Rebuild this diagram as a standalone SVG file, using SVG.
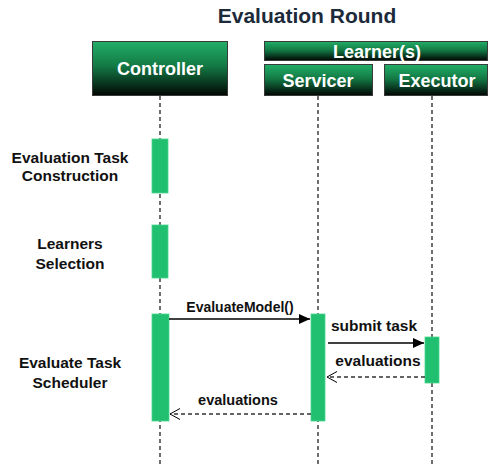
<svg xmlns="http://www.w3.org/2000/svg" width="488" height="467" viewBox="0 0 488 467">
<defs>
<linearGradient id="hdr" x1="0" y1="0" x2="0" y2="1">
<stop offset="0" stop-color="#22ae68"/>
<stop offset="0.45" stop-color="#137a45"/>
<stop offset="1" stop-color="#020604"/>
</linearGradient>
<marker id="filled" markerWidth="12" markerHeight="10" refX="11" refY="5" orient="auto" markerUnits="userSpaceOnUse">
<path d="M0,0 L11,5 L0,10 Z" fill="#000"/>
</marker>
<marker id="open" markerWidth="12" markerHeight="12" refX="11" refY="6" orient="auto" markerUnits="userSpaceOnUse">
<path d="M1,0.5 L11,6 L1,11.5" fill="none" stroke="#000" stroke-width="1"/>
</marker>
</defs>
<style>
.hdr{fill:url(#hdr);stroke:#3a3a3a;stroke-width:1}
.hdrt{font-family:"Liberation Sans",Arial,sans-serif;font-weight:bold;font-size:18px;fill:#fff;text-anchor:middle}
.life{stroke:#222;stroke-width:1.3;stroke-dasharray:4 3;fill:none}
.act{fill:#21c070;stroke:#4fd48f;stroke-width:0.8}
.lbl{font-family:"Liberation Sans",Arial,sans-serif;font-weight:bold;font-size:15.5px;fill:#111;text-anchor:middle}
.msg{font-family:"Liberation Sans",Arial,sans-serif;font-weight:bold;fill:#111;text-anchor:middle}
.solid{stroke:#000;stroke-width:1.3;fill:none}
.dash{stroke:#333;stroke-width:1.3;stroke-dasharray:4 3;fill:none}
</style>
<rect width="488" height="467" fill="#fff"/>
<text x="307" y="23" font-family="Liberation Sans,Arial,sans-serif" font-weight="bold" font-size="21" fill="#1c2a3a" text-anchor="middle">Evaluation Round</text>

<g id="lifelines">
<line class="life" x1="160" y1="96" x2="160" y2="466"/>
<line class="life" x1="318" y1="96" x2="318" y2="466"/>
<line class="life" x1="432" y1="96" x2="432" y2="466"/>
</g>

<g id="controller">
<rect class="hdr" x="92.5" y="41.5" width="135" height="54"/>
<text class="hdrt" x="160" y="75">Controller</text>
</g>
<g id="learners">
<rect class="hdr" x="264.5" y="41.5" width="223" height="19"/>
<text class="hdrt" x="377" y="57.5">Learner(s)</text>
</g>
<g id="servicer">
<rect class="hdr" x="264.5" y="64.5" width="108" height="31"/>
<text class="hdrt" x="318" y="87">Servicer</text>
</g>
<g id="executor">
<rect class="hdr" x="384.5" y="64.5" width="103" height="31"/>
<text class="hdrt" x="437" y="87">Executor</text>
</g>

<g id="activations">
<rect class="act" x="152" y="139" width="16" height="54"/>
<rect class="act" x="152" y="225" width="16" height="53"/>
<rect class="act" x="152" y="314" width="17" height="107"/>
<rect class="act" x="311" y="314" width="14" height="107"/>
<rect class="act" x="425" y="337" width="14" height="46"/>
</g>

<g id="phase-labels">
<text class="lbl" x="70" y="163">Evaluation Task</text>
<text class="lbl" x="70" y="181">Construction</text>
<text class="lbl" x="70" y="249">Learners</text>
<text class="lbl" x="70" y="269">Selection</text>
<text class="lbl" x="70" y="368">Evaluate Task</text>
<text class="lbl" x="70" y="388">Scheduler</text>
</g>

<g id="connectors">
<line class="solid" x1="169" y1="319" x2="310" y2="319" marker-end="url(#filled)"/>
<text class="msg" x="240" y="312" font-size="14">EvaluateModel()</text>
<line class="solid" x1="328" y1="343" x2="424" y2="343" marker-end="url(#filled)"/>
<text class="msg" x="374" y="331" font-size="15.5">submit task</text>
<line class="dash" x1="425" y1="377" x2="327" y2="377" marker-end="url(#open)"/>
<text class="msg" x="378" y="366" font-size="15.5">evaluations</text>
<line class="dash" x1="311" y1="414" x2="170" y2="414" marker-end="url(#open)"/>
<text class="msg" x="238" y="405" font-size="14.5">evaluations</text>
</g>
</svg>
